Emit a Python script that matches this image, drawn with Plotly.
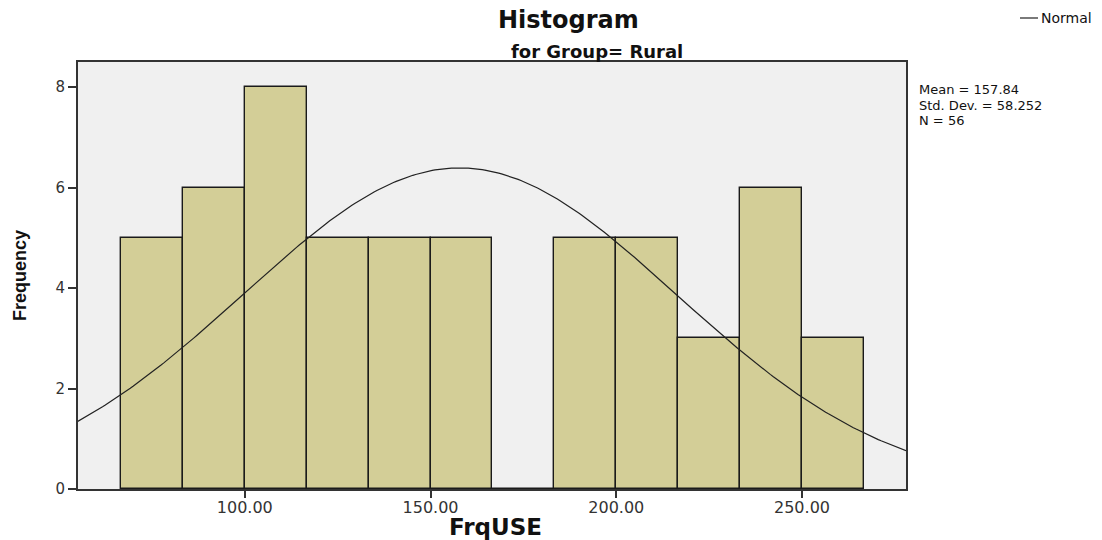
import numpy as np
import plotly.graph_objects as go

# Data
bin_lefts = [66.67, 83.33, 100.00, 116.67, 133.33, 150.00, 166.67, 183.33, 200.00, 216.67, 233.33, 250.00]
counts = [5, 6, 8, 5, 5, 5, 0, 5, 5, 3, 6, 3]
bin_width = 16.667
mean_val = 157.84
sd_val = 58.252
n_val = 56
x_tick_vals = [100, 150, 200, 250]
x_tick_text = ["100.00", "150.00", "200.00", "250.00"]
y_tick_vals = [0, 2, 4, 6, 8]
stats_lines = ["Mean = 157.84", "Std. Dev. = 58.252", "N = 56"]

centers = [b + bin_width / 2 for b in bin_lefts]

W, H = 1102, 540
L, R, T, B = 78, 196, 62, 51
PW, PH = W - L - R, H - T - B

def xp(px):
    return (px - L) / PW

def yp(py):
    return (H - B - py) / PH

fig = go.Figure()
fig.add_trace(go.Bar(
    x=centers, y=counts, width=bin_width,
    marker=dict(color="#D3CE97", line=dict(color="#1a1a1a", width=1.4)),
    showlegend=False, hoverinfo="x+y",
))

xs = np.linspace(55, 278, 300)
ys = n_val * bin_width / (sd_val * np.sqrt(2 * np.pi)) * np.exp(-0.5 * ((xs - mean_val) / sd_val) ** 2)
fig.add_trace(go.Scatter(
    x=xs, y=ys, mode="lines", name="Normal",
    line=dict(color="#222222", width=1.2), showlegend=False,
))

fig.update_layout(
    width=W, height=H,
    margin=dict(l=L, r=R, t=T, b=B),
    paper_bgcolor="white",
    plot_bgcolor="#F0F0F0",
    bargap=0,
    font=dict(family="DejaVu Sans, Arial", color="#111111"),
    xaxis=dict(
        range=[55.1, 278], tickvals=x_tick_vals, ticktext=x_tick_text,
        ticks="outside", ticklen=7, tickcolor="#333", tickwidth=2,
        ticklabelstandoff=-4,
        showgrid=False, zeroline=False,
        showline=True, linecolor="#333", linewidth=2, mirror=True,
        tickfont=dict(size=16, color="#333"),
    ),
    yaxis=dict(
        range=[0, 8.5], tickvals=y_tick_vals,
        ticks="outside", ticklen=8, tickcolor="#333", tickwidth=2,
        showgrid=False, zeroline=False,
        showline=True, linecolor="#333", linewidth=2, mirror=True,
        tickfont=dict(size=15, color="#333"),
    ),
)

fig.add_annotation(text="<b>Histogram</b>", xref="paper", x=xp(568), yref="paper", y=yp(20),
                   showarrow=False, font=dict(size=24), yanchor="middle")
fig.add_annotation(text="<b>for Group= Rural</b>", xref="paper", x=xp(597), yref="paper", y=yp(52),
                   showarrow=False, font=dict(size=18), yanchor="middle")
fig.add_annotation(text="<b>FrqUSE</b>", xref="paper", x=xp(495), yref="paper", y=yp(527),
                   showarrow=False, font=dict(size=23), yanchor="middle")
fig.add_annotation(text="<b>Frequency</b>", xref="paper", x=xp(20),
                   yref="paper", y=yp(275), textangle=-90,
                   showarrow=False,
                   font=dict(size=18, family="Liberation Sans Narrow, Arial Narrow, Liberation Sans"),
                   xanchor="center", yanchor="middle")
for i, line in enumerate(stats_lines):
    fig.add_annotation(text=line, xref="paper", x=xp(917), yref="paper", y=yp(90 + 15 * i),
                       xanchor="left", yanchor="middle", align="left", showarrow=False,
                       font=dict(size=13, color="#111"))
# Legend entry drawn at top right
fig.add_shape(type="line", xref="paper", yref="paper",
              x0=xp(1020), x1=xp(1038), y0=yp(18), y1=yp(18),
              line=dict(color="#222", width=1.2))
fig.add_annotation(text="Normal", xref="paper", x=xp(1039), yref="paper", y=yp(18),
                   xanchor="left", yanchor="middle", showarrow=False, font=dict(size=14, color="#111"))

fig.write_html("out.html", config={"displayModeBar": False},
               post_script="document.body.style.margin='0';document.body.style.overflow='hidden';")
